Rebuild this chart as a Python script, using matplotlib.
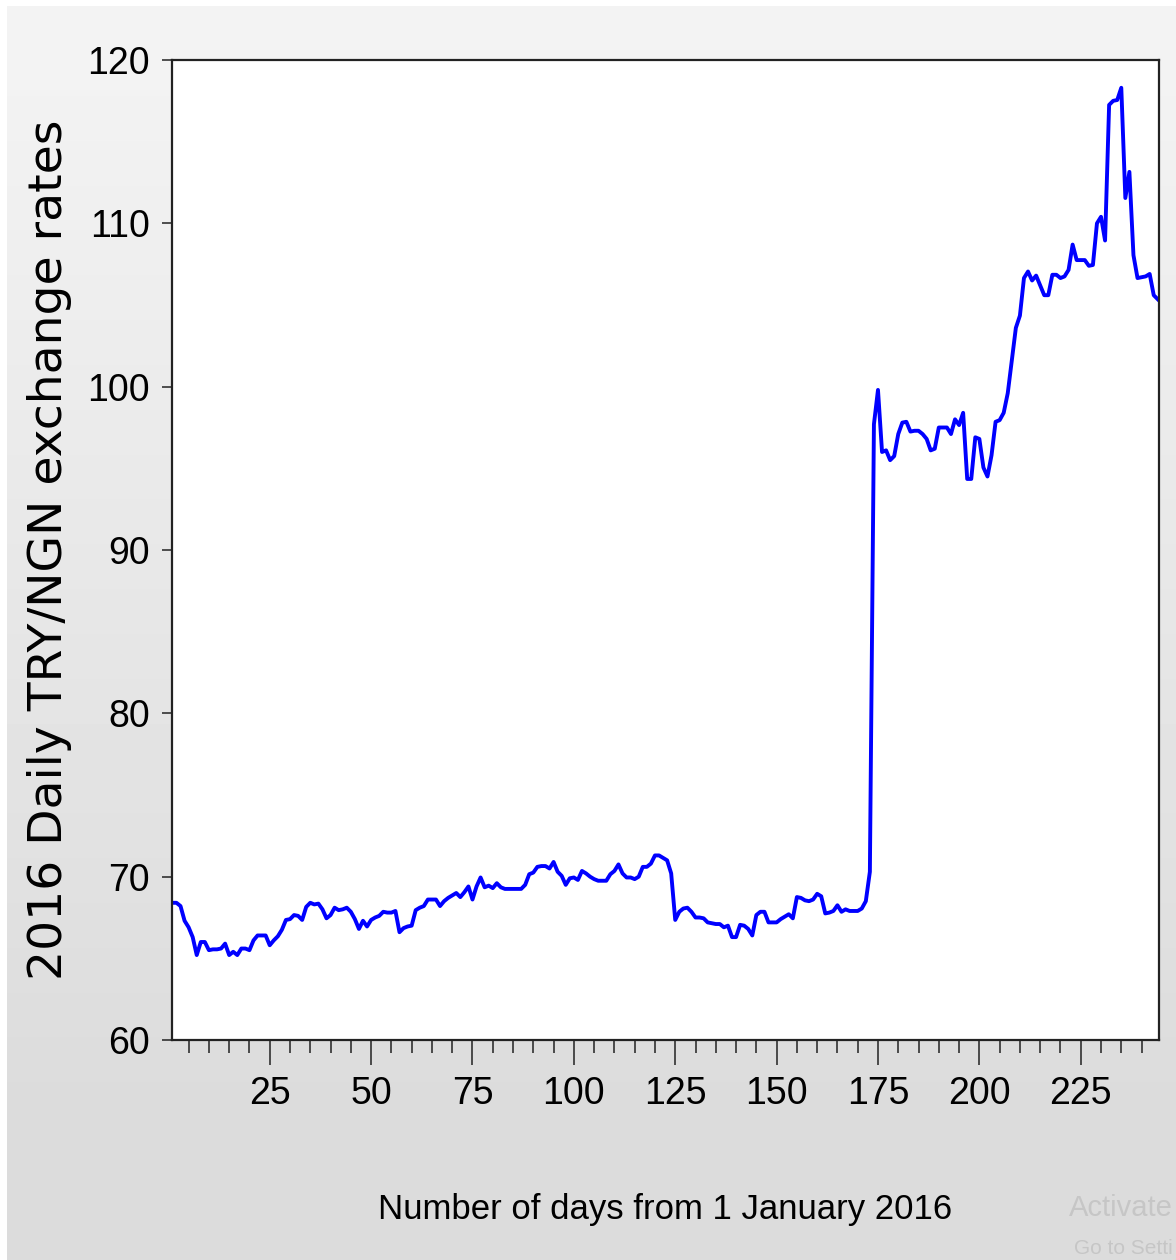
import numpy as np
import matplotlib
matplotlib.use("Agg")
import matplotlib.pyplot as plt
from matplotlib.ticker import MultipleLocator, FixedLocator
from matplotlib import font_manager

# daily TRY/NGN rate, one value per day (day 1 = 1 Jan 2016)
rates = [
    68.4, 68.4, 68.2, 67.3, 66.9, 66.3, 65.2, 66.0, 66.0, 65.5,
    65.55, 65.55, 65.6, 65.9, 65.2, 65.4, 65.2, 65.6, 65.6, 65.5,
    66.1, 66.4, 66.4, 66.4, 65.8, 66.1, 66.35, 66.75, 67.35, 67.4,
    67.65, 67.6, 67.35, 68.15, 68.4, 68.3, 68.35, 68.0, 67.45, 67.65,
    68.1, 67.95, 68.0, 68.1, 67.85, 67.4, 66.8, 67.3, 66.95, 67.35,
    67.5, 67.6, 67.85, 67.8, 67.8, 67.9, 66.6, 66.85, 66.95, 67.0,
    67.95, 68.1, 68.2, 68.6, 68.6, 68.6, 68.2, 68.5, 68.7, 68.85,
    69.0, 68.75, 69.05, 69.4, 68.6, 69.4, 69.95, 69.35, 69.45, 69.3,
    69.6, 69.35, 69.25, 69.25, 69.25, 69.25, 69.25, 69.5, 70.15, 70.25,
    70.6, 70.65, 70.65, 70.5, 70.9, 70.3, 70.05, 69.5, 69.9, 69.95,
    69.8, 70.35, 70.2, 70.0, 69.85, 69.75, 69.75, 69.75, 70.15, 70.35,
    70.75, 70.2, 69.95, 69.95, 69.85, 70.0, 70.6, 70.6, 70.8, 71.3,
    71.3, 71.15, 71.0, 70.2, 67.35, 67.85, 68.05, 68.1, 67.85, 67.5,
    67.5, 67.45, 67.2, 67.15, 67.1, 67.1, 66.9, 67.0, 66.3, 66.3,
    67.05, 67.0, 66.8, 66.4, 67.65, 67.85, 67.85, 67.2, 67.2, 67.2,
    67.4, 67.55, 67.7, 67.45, 68.75, 68.7, 68.55, 68.5, 68.6, 68.95,
    68.8, 67.75, 67.8, 67.9, 68.25, 67.85, 68.0, 67.9, 67.9, 67.9,
    68.05, 68.5, 70.3, 97.7, 99.8, 96.0, 96.1, 95.5, 95.75, 97.1,
    97.8, 97.85, 97.25, 97.3, 97.3, 97.1, 96.8, 96.1, 96.2, 97.5,
    97.5, 97.5, 97.1, 98.0, 97.65, 98.4, 94.35, 94.35, 96.9, 96.8,
    95.05, 94.5, 95.8, 97.85, 97.95, 98.4, 99.6, 101.6, 103.6, 104.35,
    106.65, 107.05, 106.5, 106.8, 106.2, 105.6, 105.6, 106.85, 106.85, 106.65,
    106.75, 107.15, 108.7, 107.75, 107.75, 107.75, 107.4, 107.45, 110.0, 110.4,
    108.95, 117.25, 117.5, 117.55, 118.3, 111.55, 113.15, 108.05, 106.65, 106.7,
    106.75, 106.9, 105.6, 105.35,
]
days = np.arange(1, len(rates) + 1)

x_major = [25, 50, 75, 100, 125, 150, 175, 200, 225]
y_major = [60, 70, 80, 90, 100, 110, 120]

# narrow face for the squeezed-looking labels, if there is one
names = {f.name for f in font_manager.fontManager.ttflist}
NARROW = "Liberation Sans Narrow" if "Liberation Sans Narrow" in names else "Liberation Sans"

W, H = 1176, 1260
fig = plt.figure(figsize=(W / 100, H / 100), dpi=100, facecolor="white")

# grey gradient window background
bg = fig.add_axes([7 / W, 0, 1 - 7 / W, 1 - 6 / H], zorder=-5)
grad = np.linspace(244, 220, 256)
grad = np.concatenate([grad, np.full(40, 220.0)]) / 255
bg.imshow(np.repeat(grad[:, None], 2, axis=1), cmap="gray", vmin=0, vmax=1,
          aspect="auto", extent=[0, 1, 0, 1], interpolation="bilinear")
bg.set_axis_off()

ax = fig.add_axes([172 / W, 1 - 1040 / H, 987 / W, 980 / H])
ax.set_facecolor("white")
ax.plot(days, rates, color="#0000ff", lw=2.8, solid_joinstyle="round")

ax.set_xlim(0.9, 244.3)
ax.set_ylim(60, 120)
ax.xaxis.set_major_locator(FixedLocator(x_major))
ax.xaxis.set_minor_locator(MultipleLocator(5))
ax.yaxis.set_major_locator(FixedLocator(y_major))

for s in ax.spines.values():
    s.set_linewidth(1.6)
    s.set_color("#222222")

ax.tick_params(axis="x", which="major", direction="out", length=18, width=1.1,
               pad=8, labelsize=27, color="#222222")
ax.tick_params(axis="x", which="minor", direction="out", length=9.5, width=1.1,
               color="#222222")
ax.tick_params(axis="y", which="major", direction="out", length=7, width=1.1,
               pad=9, labelsize=27, color="#222222")
for lab in ax.get_xticklabels() + ax.get_yticklabels():
    lab.set_fontfamily(NARROW)

fig.text(50 / W, 1 - 550 / H, "2016 Daily TRY/NGN exchange rates", rotation=90,
         ha="center", va="center", fontsize=34, family="DejaVu Sans")
fig.text(665.5 / W, 1 - 1210 / H, "Number of days from 1 January 2016",
         ha="center", va="center", fontsize=25, family=NARROW)

# windows watermark, cut off by the screenshot edge
fig.text(1173 / W, 1 - 1216 / H, "Activate", ha="right", va="baseline",
         fontsize=21, family=NARROW, color="#c6c6c6")
fig.text(1173 / W, 1 - 1254 / H, "Go to Setti", ha="right", va="baseline",
         fontsize=15, family=NARROW, color="#c6c6c6")

fig.savefig("out.png", dpi=100, facecolor=fig.get_facecolor())
